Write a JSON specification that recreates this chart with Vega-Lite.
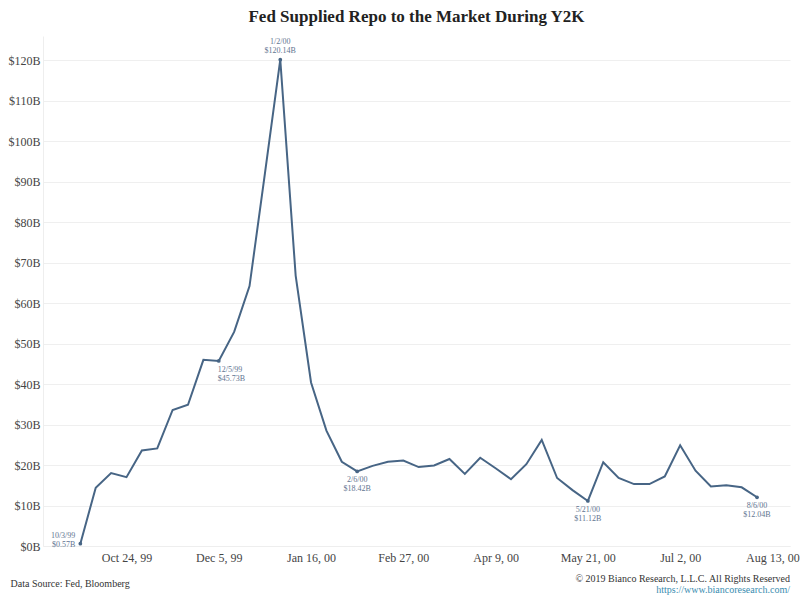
{
  "$schema": "https://vega.github.io/schema/vega-lite/v6.json",
  "background": "white",
  "padding": {"left": 7, "top": 8, "right": 5, "bottom": 5},
  "title": {
    "text": "© 2019 Bianco Research, L.L.C. All Rights Reserved",
    "subtitle": "https://www.biancoresearch.com/",
    "orient": "bottom",
    "anchor": "end",
    "frame": "group",
    "font": "Liberation Serif",
    "fontSize": 10,
    "fontWeight": "normal",
    "color": "#333333",
    "subtitleFont": "Liberation Serif",
    "subtitleFontSize": 10,
    "subtitleColor": "#3a8db0",
    "subtitlePadding": 1,
    "offset": 0,
    "dy": -14
  },
  "config": {
    "view": {"stroke": null},
    "font": "Liberation Serif"
  },
  "vconcat": [
    {
      "width": 747,
      "height": 510,
      "title": {
        "text": "Fed Supplied Repo to the Market During Y2K",
        "anchor": "middle",
        "frame": "group",
        "font": "Liberation Serif",
        "fontSize": 17,
        "fontWeight": "bold",
        "color": "#222222",
        "offset": 10
      },
      "data": {
        "values": [
          {"date": "1999-10-03", "value": 0.57, "note": "10/3/99\n$0.57B"},
          {"date": "1999-10-10", "value": 14.4},
          {"date": "1999-10-17", "value": 18.0},
          {"date": "1999-10-24", "value": 17.0},
          {"date": "1999-10-31", "value": 23.6},
          {"date": "1999-11-07", "value": 24.1},
          {"date": "1999-11-14", "value": 33.6},
          {"date": "1999-11-21", "value": 34.9},
          {"date": "1999-11-28", "value": 46.0},
          {"date": "1999-12-05", "value": 45.73, "note": "12/5/99\n$45.73B"},
          {"date": "1999-12-12", "value": 52.9},
          {"date": "1999-12-19", "value": 64.2},
          {"date": "1999-12-26", "value": 92.0},
          {"date": "2000-01-02", "value": 120.14, "note": "1/2/00\n$120.14B"},
          {"date": "2000-01-09", "value": 66.8},
          {"date": "2000-01-16", "value": 40.4},
          {"date": "2000-01-23", "value": 28.5},
          {"date": "2000-01-30", "value": 20.8},
          {"date": "2000-02-06", "value": 18.42, "note": "2/6/00\n$18.42B"},
          {"date": "2000-02-13", "value": 19.8},
          {"date": "2000-02-20", "value": 20.8},
          {"date": "2000-02-27", "value": 21.1},
          {"date": "2000-03-05", "value": 19.5},
          {"date": "2000-03-12", "value": 19.9},
          {"date": "2000-03-19", "value": 21.5},
          {"date": "2000-03-26", "value": 17.8},
          {"date": "2000-04-02", "value": 21.8},
          {"date": "2000-04-09", "value": 19.2},
          {"date": "2000-04-16", "value": 16.5},
          {"date": "2000-04-23", "value": 20.2},
          {"date": "2000-04-30", "value": 26.2},
          {"date": "2000-05-07", "value": 16.8},
          {"date": "2000-05-14", "value": 13.8},
          {"date": "2000-05-21", "value": 11.12, "note": "5/21/00\n$11.12B"},
          {"date": "2000-05-28", "value": 20.7},
          {"date": "2000-06-04", "value": 16.8},
          {"date": "2000-06-11", "value": 15.3},
          {"date": "2000-06-18", "value": 15.3},
          {"date": "2000-06-25", "value": 17.2},
          {"date": "2000-07-02", "value": 24.9},
          {"date": "2000-07-09", "value": 18.6},
          {"date": "2000-07-16", "value": 14.7},
          {"date": "2000-07-23", "value": 15.0},
          {"date": "2000-07-30", "value": 14.5},
          {"date": "2000-08-06", "value": 12.04, "note": "8/6/00\n$12.04B"}
        ]
      },
      "encoding": {
        "x": {
          "field": "date",
          "type": "temporal",
          "scale": {
            "type": "utc",
            "domain": [
              {"year": 1999, "month": 9, "date": 16, "utc": true},
              {"year": 2000, "month": 8, "date": 21, "utc": true}
            ]
          },
          "axis": {
            "values": [
              {"year": 1999, "month": 10, "date": 24, "utc": true},
              {"year": 1999, "month": 12, "date": 5, "utc": true},
              {"year": 2000, "month": 1, "date": 16, "utc": true},
              {"year": 2000, "month": 2, "date": 27, "utc": true},
              {"year": 2000, "month": 4, "date": 9, "utc": true},
              {"year": 2000, "month": 5, "date": 21, "utc": true},
              {"year": 2000, "month": 7, "date": 2, "utc": true},
              {"year": 2000, "month": 8, "date": 13, "utc": true}
            ],
            "format": "%b %-d, %y",
            "grid": false,
            "ticks": false,
            "domainColor": "#eeeeee",
            "labelFont": "Liberation Serif",
            "labelFontSize": 12,
            "labelColor": "#444444",
            "labelPadding": 6,
            "title": "Data Source: Fed, Bloomberg",
            "titleFont": "Liberation Serif",
            "titleFontSize": 10,
            "titleFontWeight": "normal",
            "titleColor": "#333333",
            "titleAnchor": "start",
            "titleAlign": "left",
            "titleBaseline": "middle",
            "titleX": -33,
            "titleY": 37
          }
        },
        "y": {
          "field": "value",
          "type": "quantitative",
          "scale": {"domain": [0, 126], "nice": false},
          "axis": {
            "values": [0, 10, 20, 30, 40, 50, 60, 70, 80, 90, 100, 110, 120],
            "labelExpr": "'$' + datum.value + 'B'",
            "grid": true,
            "gridColor": "#efefef",
            "ticks": false,
            "domainColor": "#eeeeee",
            "labelFont": "Liberation Serif",
            "labelFontSize": 12,
            "labelColor": "#444444",
            "labelPadding": 3,
            "title": null
          }
        }
      },
      "layer": [
        {
          "mark": {"type": "line", "color": "#476585", "strokeWidth": 2}
        },
        {
          "transform": [{"filter": "isValid(datum.note)"}],
          "mark": {"type": "point", "filled": true, "color": "#476585", "size": 14, "opacity": 1}
        },
        {
          "transform": [{"filter": {"field": "note", "oneOf": ["1/2/00\n$120.14B"]}}],
          "mark": {"type": "text", "lineBreak": "\n", "align": "center", "baseline": "bottom", "dy": -14, "font": "Liberation Serif", "fontSize": 8, "color": "#5f7591", "lineHeight": 9},
          "encoding": {"text": {"field": "note"}}
        },
        {
          "transform": [{"filter": {"field": "note", "oneOf": ["10/3/99\n$0.57B"]}}],
          "mark": {"type": "text", "lineBreak": "\n", "align": "right", "baseline": "bottom", "dx": -5, "dy": -4, "font": "Liberation Serif", "fontSize": 8, "color": "#5f7591", "lineHeight": 9},
          "encoding": {"text": {"field": "note"}}
        },
        {
          "transform": [{"filter": {"field": "note", "oneOf": ["12/5/99\n$45.73B"]}}],
          "mark": {"type": "text", "lineBreak": "\n", "align": "left", "baseline": "top", "dx": -1, "dy": 5, "font": "Liberation Serif", "fontSize": 8, "color": "#5f7591", "lineHeight": 9},
          "encoding": {"text": {"field": "note"}}
        },
        {
          "transform": [{"filter": {"field": "note", "oneOf": ["2/6/00\n$18.42B", "5/21/00\n$11.12B", "8/6/00\n$12.04B"]}}],
          "mark": {"type": "text", "lineBreak": "\n", "align": "center", "baseline": "top", "dy": 5, "font": "Liberation Serif", "fontSize": 8, "color": "#5f7591", "lineHeight": 9},
          "encoding": {"text": {"field": "note"}}
        }
      ]
    }
  ]
}
